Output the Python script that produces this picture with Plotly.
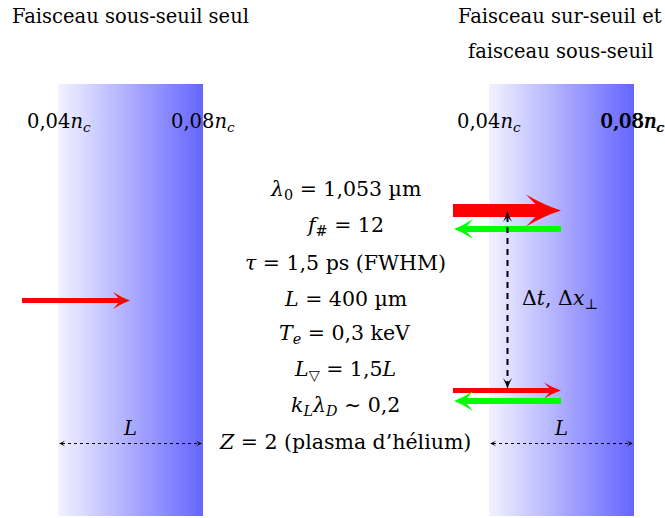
import numpy as np
import plotly.graph_objects as go

# ---- text content ----
titles_left = ["Faisceau sous-seuil seul"]
titles_right = ["Faisceau sur-seuil et", "faisceau sous-seuil"]
density_labels = ["0,04<i>n<sub>c</sub></i>", "0,08<i>n<sub>c</sub></i>"]
params = [
    "<i>λ</i><sub>0</sub> = 1,053 µm",
    "<i>f</i><sub>#</sub> = 12",
    "<i>τ</i> = 1,5 ps (FWHM)",
    "<i>L</i> = 400 µm",
    "<i>T<sub>e</sub></i> = 0,3 keV",
    "<i>L</i><sub>▽</sub> = 1,5<i>L</i>",
    "<i>k<sub>L</sub>λ<sub>D</sub></i> ∼ 0,2",
    "<i>Z</i> = 2 (plasma d’hélium)",
]
delay_label = "Δ<i>t</i>, Δ<i>x</i><sub>⊥</sub>"
length_label = "<i>L</i>"

W, H = 665, 518
FONT = "'DejaVu Serif', 'Liberation Serif', serif"
FS = 19.5
FS_PARAM = 20.5

fig = go.Figure()

# ---- gradient plasma slabs ----
c0 = np.array([242, 242, 255])
c1 = np.array([102, 102, 255])
N = 145
for xl, xr in [(58, 203), (489, 634)]:
    xe = np.linspace(xl, xr, N + 1)
    z = [list(np.linspace(0, 1, N))]
    fig.add_trace(go.Heatmap(
        x=xe, y=[84, 516], z=z, zmin=0, zmax=1,
        colorscale=[[0, f"rgb({c0[0]},{c0[1]},{c0[2]})"], [1, f"rgb({c1[0]},{c1[1]},{c1[2]})"]],
        showscale=False, hoverinfo="skip"))

shapes = []

def hhead(x, y, d, hl, hw, color="black"):
    back = x - d * hl
    notch = x - d * hl * 0.55
    path = (f"M {x},{y} Q {x - d*hl*0.5},{y - hw*0.35} {back},{y - hw} "
            f"L {notch},{y} L {back},{y + hw} Q {x - d*hl*0.5},{y + hw*0.35} {x},{y} Z")
    shapes.append(dict(type="path", path=path, fillcolor=color, line=dict(width=0), layer="above"))

def vhead(x, y, d, hl, hw, color="black"):
    back = y - d * hl
    notch = y - d * hl * 0.55
    path = (f"M {x},{y} Q {x - hw*0.35},{y - d*hl*0.5} {x - hw},{back} "
            f"L {x},{notch} L {x + hw},{back} Q {x + hw*0.35},{y - d*hl*0.5} {x},{y} Z")
    shapes.append(dict(type="path", path=path, fillcolor=color, line=dict(width=0), layer="above"))

def arrow(x0, x1, y, th, color, hl, hw):
    d = 1 if x1 > x0 else -1
    notch = x1 - d * hl * 0.55
    shapes.append(dict(type="rect", x0=x0, x1=notch, y0=y - th / 2, y1=y + th / 2,
                       fillcolor=color, line=dict(width=0), layer="above"))
    hhead(x1, y, d, hl, hw, color)

RED, GREEN = "#ff0000", "#00ff00"
# left beam
arrow(22, 130, 300.5, 5, RED, 17, 8.5)
# right: over-threshold + under-threshold beams
arrow(453, 561, 210.5, 13, RED, 35, 16)
arrow(561, 454, 229, 6, GREEN, 19, 10)
arrow(453, 561, 390.5, 5, RED, 17, 8)
arrow(561, 454, 401, 6, GREEN, 19, 10)

# dashed delay arrow
shapes.append(dict(type="line", x0=507.5, x1=507.5, y0=216, y1=384,
                   line=dict(color="black", width=2, dash="6px,5px"), layer="above"))
vhead(507.5, 211, -1, 11, 4.5)
vhead(507.5, 389, 1, 11, 4.5)

# dotted length arrows
for xl, xr in [(59, 202), (490, 633)]:
    shapes.append(dict(type="line", x0=xl + 3, x1=xr - 3, y0=443.5, y1=443.5,
                       line=dict(color="black", width=1, dash="dot"), layer="above"))
    hhead(xl, 443.5, -1, 6, 3)
    hhead(xr, 443.5, 1, 6, 3)

annotations = []

def txt(x, y, s, size=FS, xanchor="center"):
    annotations.append(dict(x=x, y=y, text=s, showarrow=False, xanchor=xanchor, yanchor="middle",
                            font=dict(family=FONT, size=size, color="black")))

txt(130, 16, titles_left[0])
txt(560, 16, titles_right[0])
txt(560, 51, titles_right[1])

txt(59, 122, density_labels[0])
txt(203, 122, density_labels[1])
txt(489, 122, density_labels[0])
txt(632, 122, density_labels[1])
txt(632.6, 122, density_labels[1])

ys = [190, 226, 263, 299, 334, 370, 406, 442]
for y, s in zip(ys, params):
    txt(345, y, s, size=FS_PARAM)

txt(560, 299, delay_label, size=FS_PARAM)
txt(130, 428, length_label)
txt(561, 428, length_label)

fig.update_layout(
    width=W, height=H, margin=dict(l=0, r=0, t=0, b=0),
    paper_bgcolor="white", plot_bgcolor="white",
    font=dict(family=FONT),
    xaxis=dict(range=[0, W], visible=False, fixedrange=True),
    yaxis=dict(range=[H, 0], visible=False, fixedrange=True),
    shapes=shapes, annotations=annotations, showlegend=False,
)
fig.write_html("out.html", config={"displayModeBar": False},
               post_script="document.body.style.margin='0';document.body.style.overflow='hidden';")
